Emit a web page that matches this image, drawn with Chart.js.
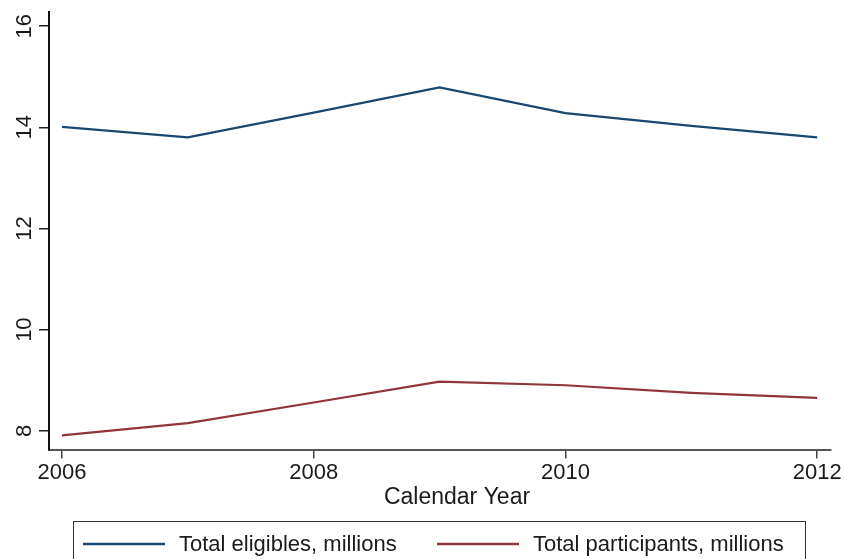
<!DOCTYPE html>
<html>
<head>
<meta charset="utf-8">
<script src="https://cdn.jsdelivr.net/npm/chart.js@4/dist/chart.umd.min.js"></script>
<style>
  html, body { margin: 0; padding: 0; background: #fff; }
  #wrap { position: relative; width: 844px; height: 559px; }
</style>
</head>
<body>
<div id="wrap"><canvas id="c"></canvas></div>
<script>
// Calendar years and program counts (millions)
const years = [2006, 2007, 2008, 2009, 2010, 2011, 2012];
const eligibles = [14.01, 13.80, 14.29, 14.79, 14.28, 14.03, 13.80];
const participants = [7.91, 8.15, 8.56, 8.97, 8.90, 8.75, 8.65];
const seriesLabels = ['Total eligibles, millions', 'Total participants, millions'];
const xTicks = [2006, 2008, 2010, 2012];
const yTicks = [8, 10, 12, 14, 16];
const xTitle = 'Calendar Year';

const FONT = '"Liberation Sans", Arial, sans-serif';
const NAVY = '#1a476f';
const MAROON = '#90353b';
const TEXT = '#1a1a1a';

const toPoints = vals => years.map((y, i) => ({ x: y, y: vals[i] }));

// Rotated y tick labels, axis title and the boxed legend underneath the plot
const extrasPlugin = {
  id: 'extras',
  afterDraw(chart) {
    const ctx = chart.ctx;
    const ys = chart.scales.y;
    ctx.save();
    ctx.fillStyle = TEXT;
    ctx.font = '22px ' + FONT;
    ctx.textAlign = 'center';
    ctx.textBaseline = 'alphabetic';
    yTicks.forEach(v => {
      const py = ys.getPixelForValue(v);
      ctx.save();
      ctx.translate(31, py);
      ctx.rotate(-Math.PI / 2);
      ctx.fillText(String(v), 0, 0);
      ctx.restore();
    });

    // x axis title
    ctx.font = '23px ' + FONT;
    ctx.textBaseline = 'middle';
    ctx.fillText(xTitle, 457, 498);
    ctx.restore();

    // legend box
    ctx.save();
    ctx.strokeStyle = '#333';
    ctx.lineWidth = 1;
    ctx.strokeRect(73.5, 521.5, 732, 60);
    const legendY = 544;
    const entries = [
      { x: 83, color: chart.data.datasets[0].borderColor, text: chart.data.datasets[0].label },
      { x: 437, color: chart.data.datasets[1].borderColor, text: chart.data.datasets[1].label }
    ];
    ctx.font = '22px ' + FONT;
    ctx.textAlign = 'left';
    ctx.textBaseline = 'middle';
    entries.forEach(e => {
      ctx.strokeStyle = e.color;
      ctx.lineWidth = 2.4;
      ctx.beginPath();
      ctx.moveTo(e.x, legendY);
      ctx.lineTo(e.x + 82, legendY);
      ctx.stroke();
      ctx.fillStyle = TEXT;
      ctx.fillText(e.text, e.x + 96, legendY + 1);
    });
    ctx.restore();
  }
};

new Chart(document.getElementById('c'), {
  type: 'line',
  data: {
    datasets: [
      { label: seriesLabels[0], data: toPoints(eligibles), borderColor: NAVY, borderWidth: 2.2, pointRadius: 0, tension: 0, fill: false },
      { label: seriesLabels[1], data: toPoints(participants), borderColor: MAROON, borderWidth: 2.2, pointRadius: 0, tension: 0, fill: false }
    ]
  },
  options: {
    responsive: true,
    maintainAspectRatio: false,
    animation: false,
    layout: { padding: { left: 0, top: 12, right: 13, bottom: 39.5 } },
    plugins: { legend: { display: false }, tooltip: { enabled: false } },
    scales: {
      x: {
        type: 'linear',
        min: 2005.897,
        max: 2012.11,
        afterBuildTicks: s => { s.ticks = xTicks.map(v => ({ value: v })); },
        afterFit: s => { s.height = 70; },
        grid: { drawOnChartArea: false, drawTicks: true, tickLength: 9, color: '#444', lineWidth: 1.5 },
        border: { display: true, color: '#555', width: 2 },
        ticks: { color: TEXT, font: { family: FONT, size: 22 }, padding: 1, maxRotation: 0, callback: v => String(v) },
        title: { display: false }
      },
      y: {
        type: 'linear',
        min: 7.63,
        max: 16.28,
        afterBuildTicks: s => { s.ticks = yTicks.map(v => ({ value: v })); },
        afterFit: s => { s.width = 49; },
        grid: { drawOnChartArea: false, drawTicks: true, tickLength: 10, color: '#222', lineWidth: 1.5 },
        border: { display: true, color: '#111', width: 2 },
        ticks: { display: false }
      }
    }
  },
  plugins: [extrasPlugin]
});
</script>
</body>
</html>
